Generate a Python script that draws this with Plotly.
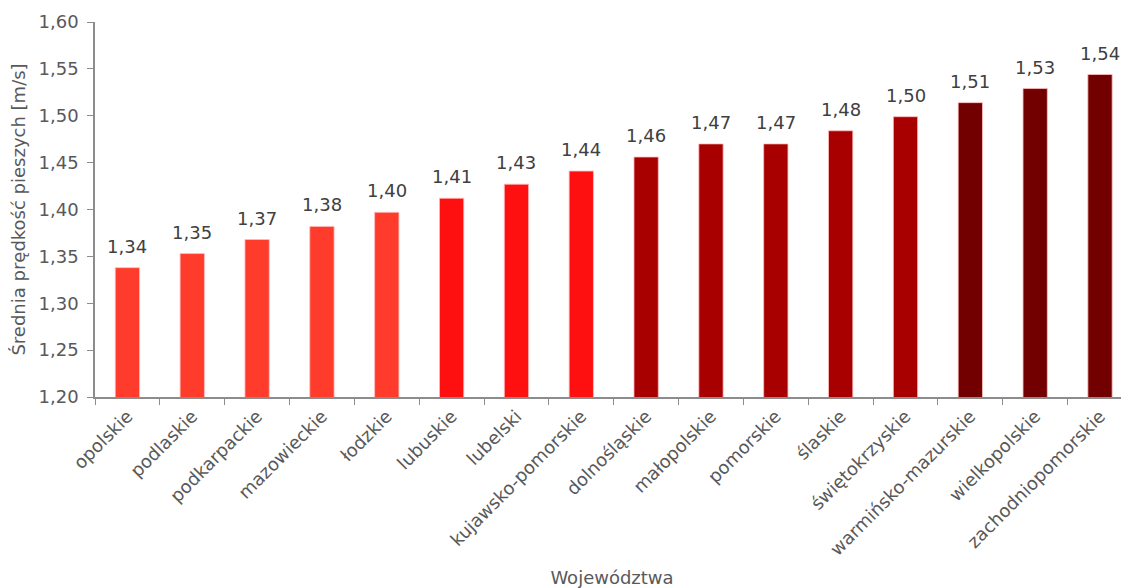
import plotly.graph_objects as go

categories = ["opolskie", "podlaskie", "podkarpackie", "mazowieckie", "łodzkie",
              "lubuskie", "lubelski", "kujawsko-pomorskie", "dolnośląskie",
              "małopolskie", "pomorskie", "ślaskie", "świętokrzyskie",
              "warmińsko-mazurskie", "wielkopolskie", "zachodniopomorskie"]
values = [1.338, 1.353, 1.368, 1.382, 1.397, 1.412, 1.427, 1.441, 1.456,
          1.470, 1.470, 1.484, 1.499, 1.514, 1.529, 1.544]
colors = ["#FF3B2B"] * 5 + ["#FF1010"] * 3 + ["#A80000"] * 5 + ["#720000"] * 3
y_ticks = [1.20, 1.25, 1.30, 1.35, 1.40, 1.45, 1.50, 1.55, 1.60]

FONT = "DejaVu Sans"

fig = go.Figure(go.Bar(
    x=categories, y=values,
    marker=dict(color=colors, line=dict(color="rgba(255,190,190,0.8)", width=1)),
    width=0.375,
))

for c, v in zip(categories, values):
    fig.add_annotation(
        x=c, y=v, text=f"{v:.2f}".replace(".", ","),
        showarrow=False, yanchor="bottom", yshift=9,
        font=dict(color="#404040", size=18, family=FONT),
    )

fig.update_layout(
    width=1121, height=580,
    margin=dict(l=87, r=0, t=14, b=191),
    plot_bgcolor="white", paper_bgcolor="white",
    separators=", ",
    font=dict(family=FONT, size=18, color="#595959"),
    showlegend=False,
    xaxis=dict(
        range=[-0.5, 15.447], automargin=False,
        showline=True, linecolor="#8c8c8c", linewidth=1.5,
        ticks="outside", tickson="boundaries", ticklen=6, tickcolor="#8c8c8c",
        tickangle=-45, showgrid=False,
        title=dict(text="Województwa", font=dict(size=18, color="#595959"), standoff=13),
    ),
    yaxis=dict(
        range=[1.20, 1.60], tickvals=y_ticks, tickformat=".2f", automargin=False,
        showline=True, linecolor="#8c8c8c", linewidth=1.5,
        ticks="outside", ticklen=6, tickcolor="#8c8c8c", ticklabelstandoff=5,
        showgrid=False, zeroline=False,
        title=dict(text="Średnia prędkość pieszych [m/s]", font=dict(size=18, color="#595959"), standoff=17),
    ),
)

fig.write_html("out.html")
